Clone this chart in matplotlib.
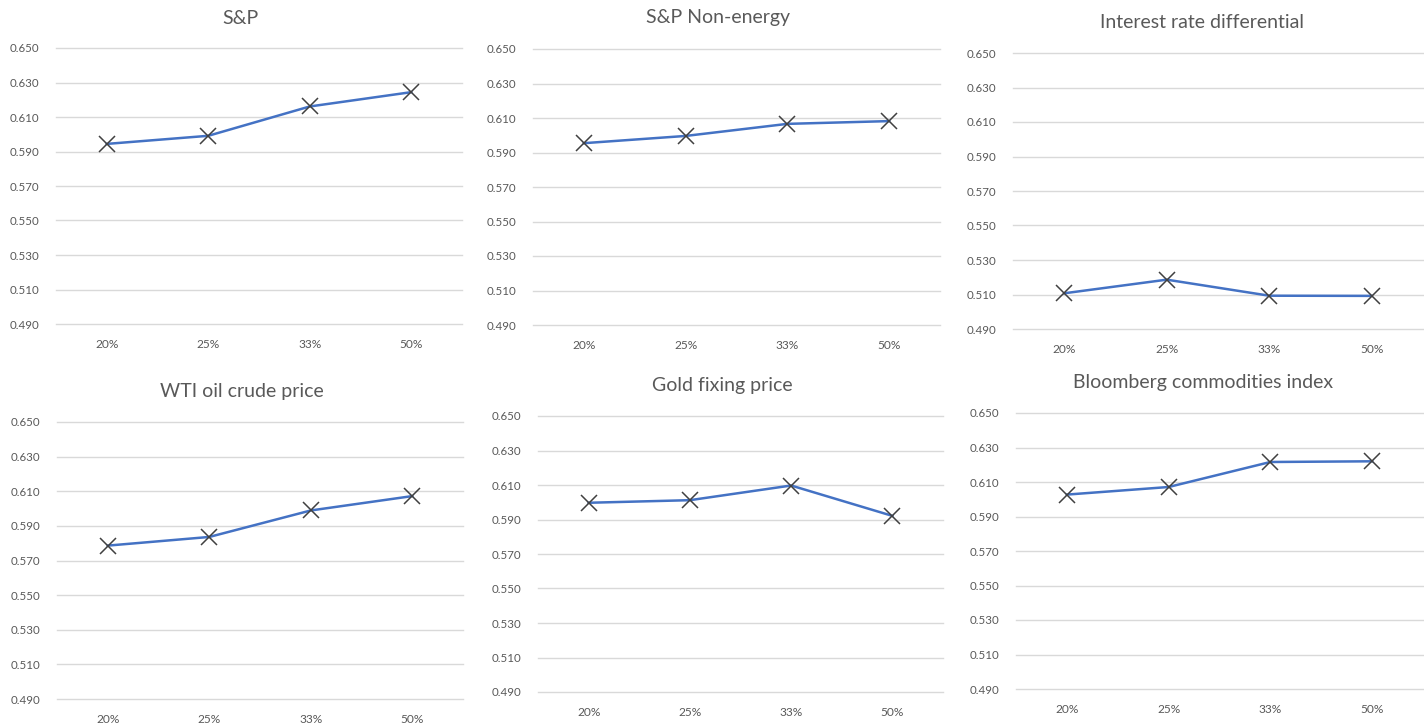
import matplotlib
matplotlib.use("Agg")
import matplotlib.pyplot as plt

categories = ["20%", "25%", "33%", "50%"]
titles = ["S&P", "S&P Non-energy", "Interest rate differential",
          "WTI oil crude price", "Gold fixing price", "Bloomberg commodities index"]
sp = [0.5944, 0.5991, 0.6161, 0.6244]
sp_nonenergy = [0.5954, 0.5996, 0.6066, 0.6082]
interest_diff = [0.5107, 0.5186, 0.5093, 0.5092]
wti = [0.5786, 0.5836, 0.5989, 0.6072]
gold = [0.5997, 0.6012, 0.6097, 0.5921]
bcom = [0.6027, 0.6071, 0.6216, 0.6220]
series = [sp, sp_nonenergy, interest_diff, wti, gold, bcom]
yticks = [0.490, 0.510, 0.530, 0.550, 0.570, 0.590, 0.610, 0.630, 0.650]

W, H = 1424, 726
# pixel boxes: x0, x1, ytop, ybot ; title center (x, y)
boxes = [(56, 462, 48, 324), (533, 940, 49, 325), (1013, 1423, 53, 329),
         (57, 463, 422, 699), (538, 943, 416, 692), (1016, 1423, 413, 689)]
title_pos = [(240, 18), (718, 18), (1202, 22), (242, 392), (722, 385), (1203, 383)]

plt.rcParams['font.family'] = ['Lato', 'DejaVu Sans']
fig = plt.figure(figsize=(W / 100, H / 100), dpi=100)
fig.patch.set_facecolor("white")

txt = "#595959"
for (x0, x1, yt, yb), vals, title, (tx, ty) in zip(boxes, series, titles, title_pos):
    ax = fig.add_axes([x0 / W, 1 - yb / H, (x1 - x0) / W, (yb - yt) / H])
    xs = list(range(len(categories)))
    ax.plot(xs, vals, color="#4472C4", lw=1.8, zorder=3,
            marker="x", markersize=11, markeredgecolor="#404040",
            markeredgewidth=1.1)
    ax.set_xlim(-0.5, len(categories) - 0.5)
    ax.set_ylim(yticks[0], yticks[-1])
    ax.set_yticks(yticks)
    ax.set_yticklabels([f"{v:.3f}" for v in yticks])
    ax.set_xticks(xs)
    ax.set_xticklabels(categories)
    ax.grid(axis="y", color="#D9D9D9", lw=1.0)
    for gl in ax.get_ygridlines():
        gl.set_clip_on(False)
    ax.set_axisbelow(True)
    for s in ax.spines.values():
        s.set_visible(False)
    ax.tick_params(axis="both", length=0, labelcolor=txt)
    ax.tick_params(axis="y", pad=12, labelsize=8.3)
    ax.tick_params(axis="x", pad=11, labelsize=8.6)
    fig.text(tx / W, 1 - ty / H, title, ha="center", va="center",
             fontsize=14, color=txt)

fig.savefig("out.png", dpi=100)
